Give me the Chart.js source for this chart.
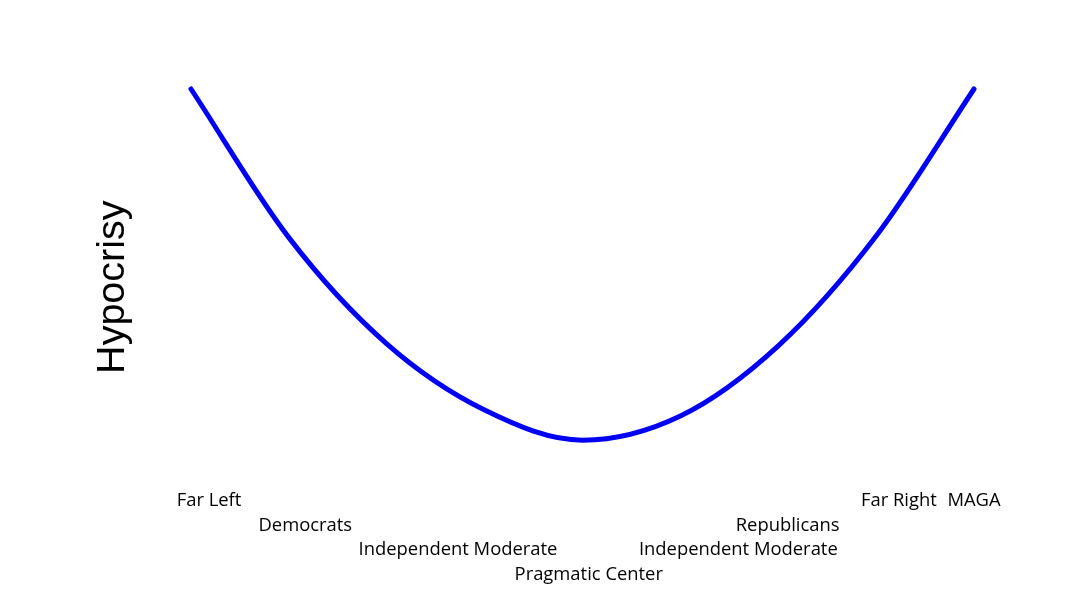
<!DOCTYPE html>
<html>
<head>
<meta charset="utf-8">
<script src="https://cdn.jsdelivr.net/npm/chart.js@4"></script>
<style>
    html, body { margin: 0; padding: 0; background: #fff; }
    #wrap { width: 1080px; height: 608px; }
</style>
</head>
<body>
<div id="wrap"><canvas id="chart"></canvas></div>
<script>
// Curve: position on the spectrum (0 = far left, 100 = far right)
const spectrum = [0, 12.5, 25, 37.5, 50, 62.5, 75, 87.5, 100];
const hypocrisy = [100, 62.5, 35.7, 19.0, 11.4, 17.5, 35.2, 62.9, 100];

// Group labels along the spectrum
const groups = ['Far Left', 'Democrats', 'Independent Moderate', 'Pragmatic Center',
    'Independent Moderate', 'Republicans', 'Far Right', 'MAGA'];
const groupPositions = [2.3, 14.6, 34.1, 50.8, 69.9, 76.2, 90.4, 100];

// which text row each label sits on (staggered)
const labelRows = [0, 1, 2, 3, 2, 1, 0, 0];

const points = spectrum.map((x, i) => ({ x: x, y: hypocrisy[i] }));

const ctx = document.getElementById('chart').getContext('2d');
new Chart(ctx, {
    type: 'scatter',
    data: {
        datasets: [{
            data: points,
            showLine: true,
            borderColor: 'rgb(0, 0, 245)',
            borderWidth: 5,
            borderCapStyle: 'round',
            cubicInterpolationMode: 'monotone',
            pointRadius: 0,
            pointHoverRadius: 0,
            clip: false
        }]
    },
    options: {
        responsive: true,
        maintainAspectRatio: false,
        animation: false,
        layout: {
            padding: { top: 89, right: 106, bottom: 18, left: 89 }
        },
        plugins: {
            legend: { display: false },
            tooltip: { enabled: false }
        },
        scales: {
            x: {
                type: 'linear',
                min: 0,
                max: 100,
                grid: { display: false, drawTicks: false, tickLength: 0 },
                border: { display: false },
                afterBuildTicks: function(scale) {
                    scale.ticks = groupPositions.map(v => ({ value: v }));
                },
                afterFit: function(scale) {
                    // labels may hang past the plot edges
                    scale.paddingLeft = 0;
                    scale.paddingRight = 0;
                },
                ticks: {
                    autoSkip: false,
                    maxRotation: 0,
                    minRotation: 0,
                    padding: 3,
                    color: '#000',
                    font: { family: '"Open Sans", sans-serif', size: 18.4, lineHeight: 1.34 },
                    callback: function(value, index) {
                        const lines = [];
                        for (let r = 0; r < labelRows[index]; r++) lines.push('');
                        lines.push(groups[index]);
                        return lines;
                    }
                }
            },
            y: {
                min: 0,
                max: 100,
                grid: { display: false, drawTicks: false, tickLength: 0 },
                border: { display: false },
                ticks: { display: false },
                title: {
                    display: true,
                    text: 'Hypocrisy',
                    color: '#000',
                    font: { family: '"Liberation Sans", Arial, sans-serif', size: 39.5 },
                    padding: { top: 0, bottom: 54.6 }
                }
            }
        }
    }
});
</script>
</body>
</html>
